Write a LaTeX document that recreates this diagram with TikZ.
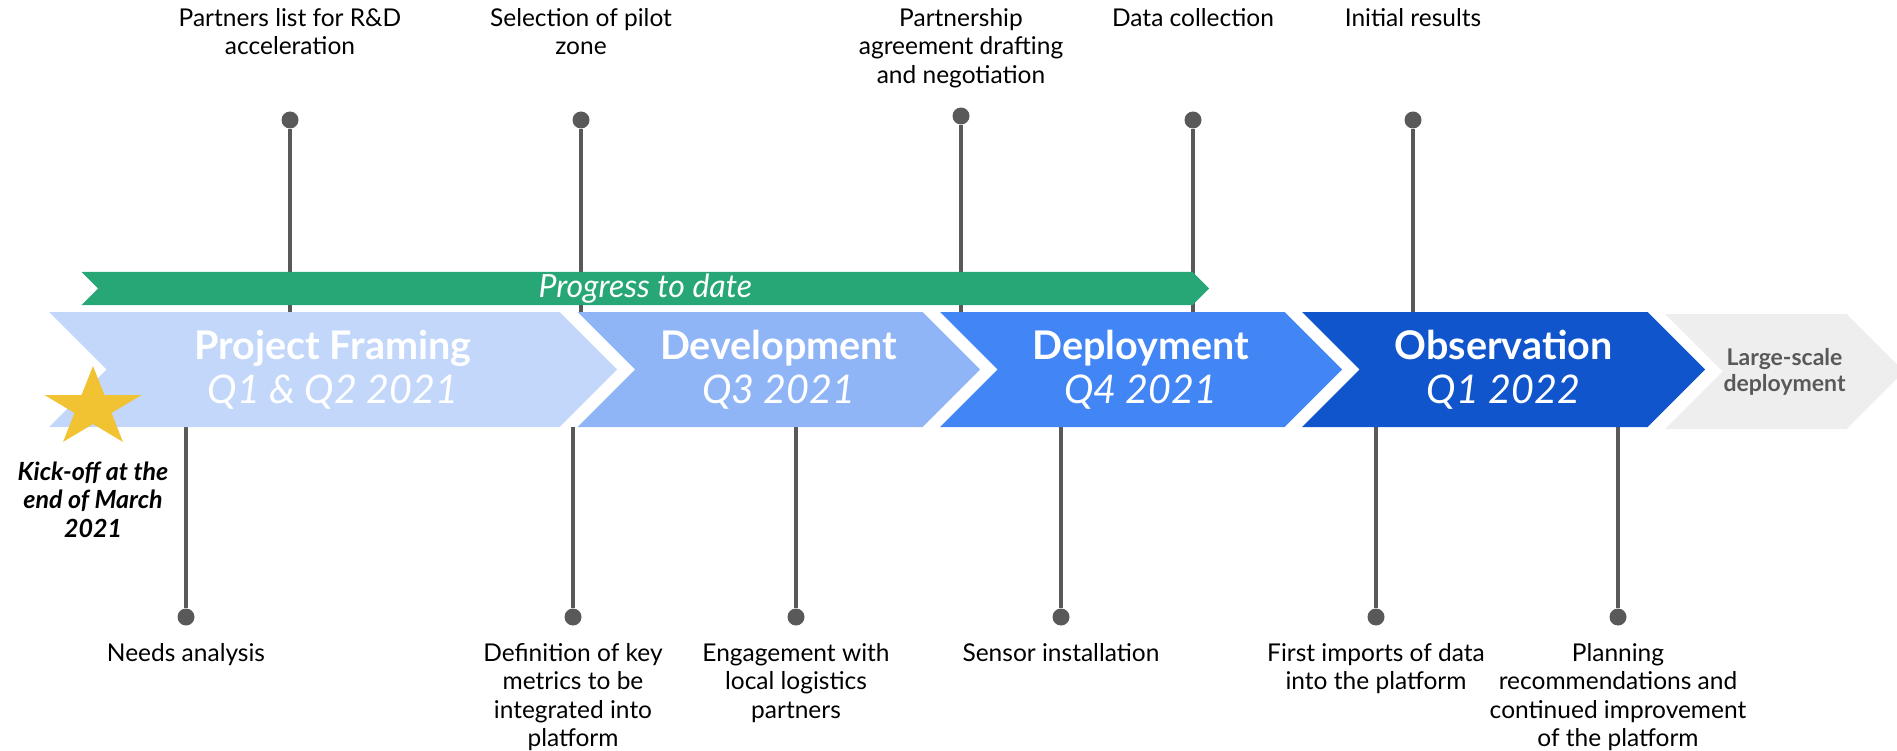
\documentclass[tikz,border=0pt]{standalone}
\usepackage{fontspec}
\setmainfont{Lato}
\usepackage{tikz}
\usetikzlibrary{shapes.symbols,shapes.geometric}
\pgfdeclarelayer{background}
\pgfsetlayers{background,main}
\definecolor{framingblue}{RGB}{194,215,250}
\definecolor{devblue}{RGB}{143,181,246}
\definecolor{deployblue}{RGB}{66,133,244}
\definecolor{obsblue}{RGB}{17,85,204}
\definecolor{latergray}{RGB}{238,238,238}
\definecolor{progressgreen}{RGB}{38,167,117}
\definecolor{stemgray}{RGB}{89,89,89}
\definecolor{stargold}{RGB}{241,194,50}
\tikzstyle{phase-box}=[signal, signal from=west, signal to=east, signal pointer angle=90, minimum height=115, inner sep=0, outer sep=0, text=white, align=center, font=\fontsize{39.5}{44}\selectfont]
\tikzstyle{phase-later}=[phase-box, fill=latergray, text=stemgray, font=\fontsize{23}{26}\selectfont\bfseries]
\tikzstyle{progress-bar}=[signal, signal from=west, signal to=east, signal pointer angle=90, minimum height=33, inner sep=0, outer sep=0, fill=progressgreen, text=white, font=\fontsize{32}{32}\selectfont\itshape]
\tikzstyle{knob}=[circle, fill=stemgray, minimum size=17, inner sep=0]
\tikzstyle{stem-line}=[draw=stemgray, line width=3.5]
\tikzstyle{milestone-text}=[align=center, inner sep=0, font=\fontsize{24.5}{28.5}\selectfont]

\begin{document}
\begin{tikzpicture}[x=1pt,y=-1pt]
	\useasboundingbox (0,0) rectangle (1897,751);
	% phases
	 \node [phase-box, fill=framingblue, minimum width=568] (pf) at (333,369.5) {{\bfseries Project Framing}\\{\itshape Q1 \& Q2 2021}};
	 \node [phase-box, fill=devblue, minimum width=402.4] (dev) at (778.8,369.5) {{\bfseries Development}\\{\itshape Q3 2021}};
	 \node [phase-box, fill=deployblue, minimum width=402] (dep) at (1141,369.5) {{\bfseries Deployment}\\{\itshape Q4 2021}};
	 \node [phase-box, fill=obsblue, minimum width=403] (obs) at (1503.5,369.5) {{\bfseries Observation}\\{\itshape Q1 2022}};
	 \node [phase-later, minimum width=239] (lsd) at (1784.5,371.5) {Large-scale\\deployment};

	 \node [progress-bar, minimum width=1127.4] (prog) at (645.3,288.5) {Progress to date};

	% kick-off star
	 \fill[stargold, shift={(93,408)}] (270:51 and 42) -- (306:19.5 and 16) -- (342:51 and 42) -- (18:19.5 and 16) -- (54:51 and 42) -- (90:19.5 and 16) -- (126:51 and 42) -- (162:19.5 and 16) -- (198:51 and 42) -- (234:19.5 and 16) -- cycle;
	 \node [milestone-text, anchor=north, font=\fontsize{25}{28.5}\selectfont\bfseries\itshape] (kick) at (93,461.5) {Kick-off at the\\end of March\\2021};

	% milestones above
	 \node [knob] (t1) at (290,120) {};
	 \node [knob] (t2) at (581,120) {};
	 \node [knob] (t3) at (961,116) {};
	 \node [knob] (t4) at (1193,120) {};
	 \node [knob] (t5) at (1413,120) {};
	 \node [milestone-text, anchor=north] (l1) at (290,8) {Partners list for R\&D\\acceleration};
	 \node [milestone-text, anchor=north] (l2) at (581,8) {Selection of pilot\\zone};
	 \node [milestone-text, anchor=north] (l3) at (961,8) {Partnership\\agreement drafting\\and negotiation};
	 \node [milestone-text, anchor=north] (l4) at (1193,8) {Data collection};
	 \node [milestone-text, anchor=north] (l5) at (1413,8) {Initial results};

	% milestones below
	 \node [knob] (b1) at (186,617) {};
	 \node [knob] (b2) at (573,617) {};
	 \node [knob] (b3) at (796,617) {};
	 \node [knob] (b4) at (1061,617) {};
	 \node [knob] (b5) at (1376,617) {};
	 \node [knob] (b6) at (1618,617) {};
	 \node [milestone-text, anchor=north] (m1) at (186,643) {Needs analysis};
	 \node [milestone-text, anchor=north] (m2) at (573,643) {Definition of key\\metrics to be\\integrated into\\platform};
	 \node [milestone-text, anchor=north] (m3) at (796,643) {Engagement with\\local logistics\\partners};
	 \node [milestone-text, anchor=north] (m4) at (1061,643) {Sensor installation};
	 \node [milestone-text, anchor=north] (m5) at (1376,643) {First imports of data\\into the platform};
	 \node [milestone-text, anchor=north] (m6) at (1618,643) {Planning\\recommendations and\\continued improvement\\of the platform};

	% stems
	\begin{pgfonlayer}{background}
	 \draw [stem-line] (t1) -- (t1 |- pf.north);
	 \draw [stem-line] (t2) -- (t2 |- dev.north);
	 \draw [stem-line] (t3) -- (t3 |- dep.north);
	 \draw [stem-line] (t4) -- (t4 |- dep.north);
	 \draw [stem-line] (t5) -- (t5 |- obs.north);
	 \draw [stem-line] (b1) -- (b1 |- pf.south);
	 \draw [stem-line] (b2) -- (b2 |- pf.south);
	 \draw [stem-line] (b3) -- (b3 |- dev.south);
	 \draw [stem-line] (b4) -- (b4 |- dep.south);
	 \draw [stem-line] (b5) -- (b5 |- obs.south);
	 \draw [stem-line] (b6) -- (b6 |- obs.south);
	\end{pgfonlayer}
\end{tikzpicture}
\end{document}
